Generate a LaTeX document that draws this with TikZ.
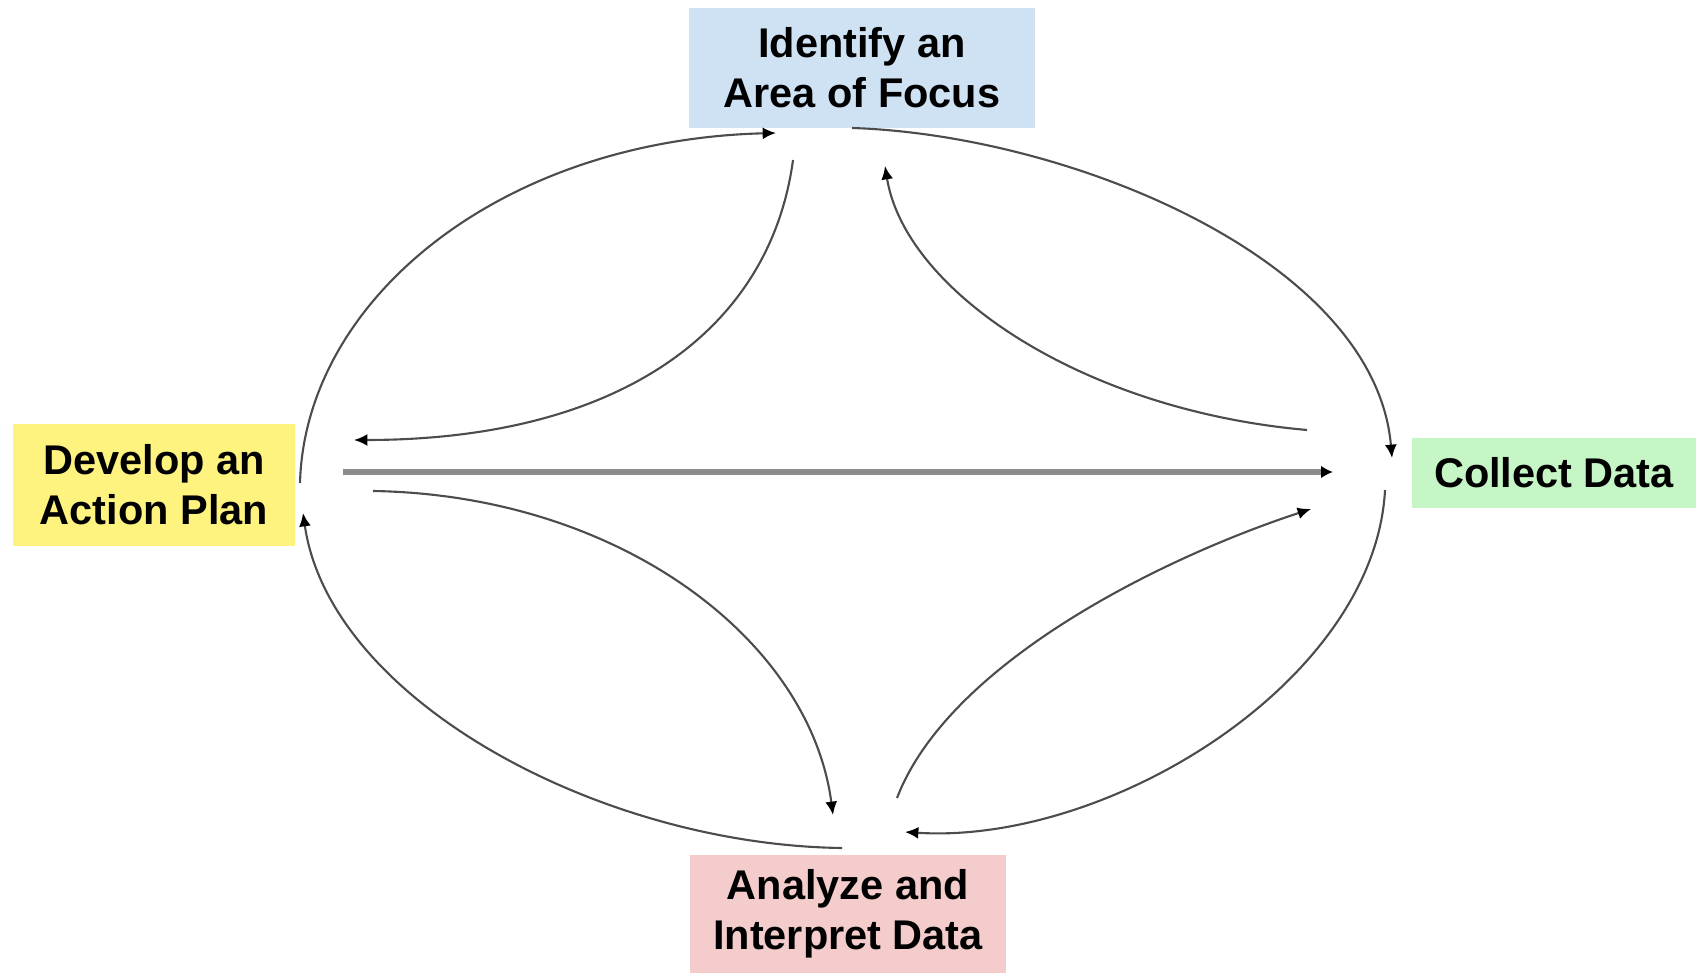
\documentclass[tikz,border=0pt]{standalone}
\usepackage{fontspec}
\setmainfont{Liberation Sans}
\usepackage{tikz}
\usetikzlibrary{arrows.meta}

\definecolor{focusblue}{HTML}{CFE2F3}
\definecolor{planyellow}{HTML}{FFF37F}
\definecolor{collectgreen}{HTML}{C6F5C6}
\definecolor{analyzepink}{HTML}{F4CCCC}

\tikzset{
  stepbox/.style={inner sep=0pt, align=center, font=\fontsize{11.8}{14.2}\selectfont\bfseries},
  link/.style={draw=black!70, line width=0.6pt, -{Latex[length=3.8pt,width=3.4pt,color=black]}},
  midlink/.style={draw=black!45, line width=1.5pt, -{Latex[length=3.4pt,width=3.6pt,color=black]}}
}

\begin{document}
\begin{tikzpicture}[x=0.01cm,y=-0.01cm]
        \useasboundingbox (0,0) rectangle (1701,974);
        \node[stepbox, fill=focusblue, minimum width=3.45cm, minimum height=1.19cm] (focus) at (862,68) {Identify an\\Area of Focus};
        \node[stepbox, fill=planyellow, minimum width=2.81cm, minimum height=1.21cm] (plan) at (154,485) {Develop an\\Action Plan};
        \node[stepbox, fill=collectgreen, minimum width=2.84cm, minimum height=0.69cm] (collect) at (1554,473) {Collect Data};
        \node[stepbox, fill=analyzepink, minimum width=3.16cm, minimum height=1.18cm] (analyze) at (848,914) {Analyze and\\Interpret Data};
        \coordinate (planA) at (300,483);
        \coordinate (planB) at (303,513);
        \coordinate (planC) at (354,440);
        \coordinate (planD) at (343,472);
        \coordinate (planE) at (373,491);
        \coordinate (focusA) at (776,133);
        \coordinate (focusB) at (852,128);
        \coordinate (focusC) at (793,160);
        \coordinate (focusD) at (885,166);
        \coordinate (collectA) at (1392,458);
        \coordinate (collectB) at (1385,490);
        \coordinate (collectC) at (1307,430);
        \coordinate (collectD) at (1333,472);
        \coordinate (collectE) at (1311,509);
        \coordinate (analyzeA) at (905,832);
        \coordinate (analyzeB) at (842,848);
        \coordinate (analyzeC) at (833,815);
        \coordinate (analyzeD) at (897,798);
        \draw [link] (planA) .. controls (305,300) and (500,140) .. (focusA);
        \draw [link] (focusB) .. controls (1070,135) and (1375,260) .. (collectA);
        \draw [link] (collectB) .. controls (1375,680) and (1110,845) .. (analyzeA);
        \draw [link] (analyzeB) .. controls (600,845) and (330,700) .. (planB);
        \draw [link] (focusC) .. controls (770,330) and (620,440) .. (planC);
        \draw [link] (collectC) .. controls (1080,410) and (905,290) .. (focusD);
        \draw [link] (planE) .. controls (620,495) and (810,640) .. (analyzeC);
        \draw [link] (analyzeD) .. controls (950,660) and (1170,555) .. (collectE);
        \draw [midlink] (planD) -- (collectD);
    \end{tikzpicture}
\end{document}
